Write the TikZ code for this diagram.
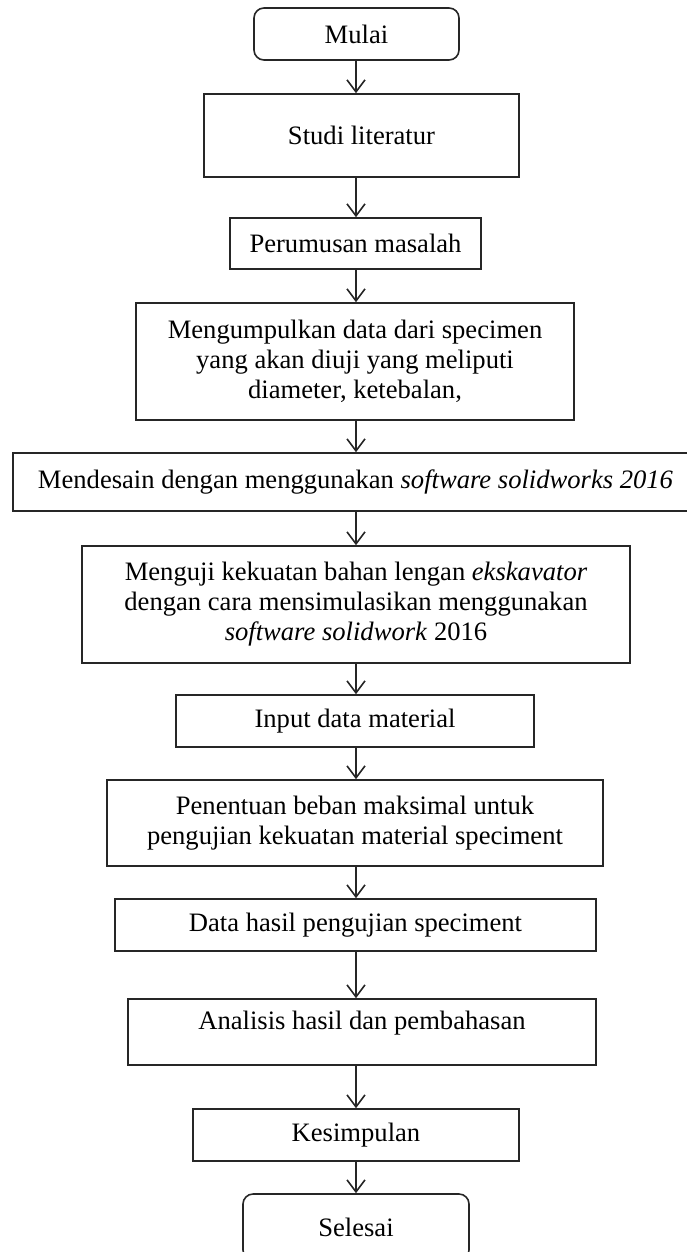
\documentclass[tikz,border=0pt]{standalone}
\usepackage{fontspec}
\setmainfont{Liberation Serif}
\usepackage{tikz}
\usetikzlibrary{positioning}
\usetikzlibrary{arrows.meta}

\begin{document}
\begin{tikzpicture}[x=0.5pt, y=-0.5pt,
		every node/.style={font=\fontsize{13.3}{15}\selectfont},
		stepbox/.style={draw=black!85, line width=0.8pt, align=center, inner sep=0pt},
		termbox/.style={stepbox, rounded corners=5pt},
		flow/.style={draw=black!85, line width=0.8pt, -{Straight Barb[length=6pt,width=9pt]}}]
		
		% ---------------------
		% Proper size --- Bounding box
		\useasboundingbox (0,0) rectangle (686,1252);
		
		% ---------------------
		% Main axis of the arrows
		\coordinate (Axis) at (356,0);
		
		% ---------------------
		% Steps
		\node[termbox, minimum width=102.5pt, minimum height=26pt] (Mulai) at (356.5,34) {Mulai};
		\node[stepbox, minimum width=157.5pt, minimum height=41.5pt] (Studi) at (361.5,135.5) {Studi literatur};
		\node[stepbox, minimum width=125.5pt, minimum height=25.5pt] (Rumus) at (355.5,243.5) {Perumusan masalah};
		\node[stepbox, minimum width=219pt, minimum height=58.5pt] (Kumpul) at (355,361.5)
			{Mengumpulkan data dari specimen\\yang akan diuji yang meliputi\\diameter, ketebalan,};
		\node[stepbox, minimum width=342.5pt, minimum height=29pt] (Desain) at (355.5,482)
			{Mendesain dengan menggunakan \textit{software solidworks 2016}};
		\node[stepbox, minimum width=274pt, minimum height=58.5pt] (Uji) at (356,604.5)
			{Menguji kekuatan bahan lengan \textit{ekskavator}\\dengan cara mensimulasikan menggunakan\\\textit{software solidwork} 2016};
		\node[stepbox, minimum width=179pt, minimum height=26pt] (Input) at (355,721) {Input data material};
		\node[stepbox, minimum width=248pt, minimum height=43pt] (Beban) at (355,823)
			{Penentuan beban maksimal untuk\\pengujian kekuatan material speciment};
		\node[stepbox, minimum width=240.5pt, minimum height=26pt] (Hasil) at (355.5,925) {Data hasil pengujian speciment};
		\node[stepbox, minimum width=234pt, minimum height=33pt, text depth=12pt] (Analisis) at (362,1032) {Analisis hasil dan pembahasan};
		\node[stepbox, minimum width=163pt, minimum height=26pt] (Simpul) at (356,1135) {Kesimpulan};
		\node[termbox, minimum width=113pt, minimum height=33pt] (Selesai) at (356,1227) {Selesai};
		
		% ---------------------
		% Arrows
		\draw[flow] (Axis |- Mulai.south) -- (Axis |- Studi.north);
		\draw[flow] (Axis |- Studi.south) -- (Axis |- Rumus.north);
		\draw[flow] (Axis |- Rumus.south) -- (Axis |- Kumpul.north);
		\draw[flow] (Axis |- Kumpul.south) -- (Axis |- Desain.north);
		\draw[flow] (Axis |- Desain.south) -- (Axis |- Uji.north);
		\draw[flow] (Axis |- Uji.south) -- (Axis |- Input.north);
		\draw[flow] (Axis |- Input.south) -- (Axis |- Beban.north);
		\draw[flow] (Axis |- Beban.south) -- (Axis |- Hasil.north);
		\draw[flow] (Axis |- Hasil.south) -- (Axis |- Analisis.north);
		\draw[flow] (Axis |- Analisis.south) -- (Axis |- Simpul.north);
		\draw[flow] (Axis |- Simpul.south) -- (Axis |- Selesai.north);
		
\end{tikzpicture}
\end{document}
